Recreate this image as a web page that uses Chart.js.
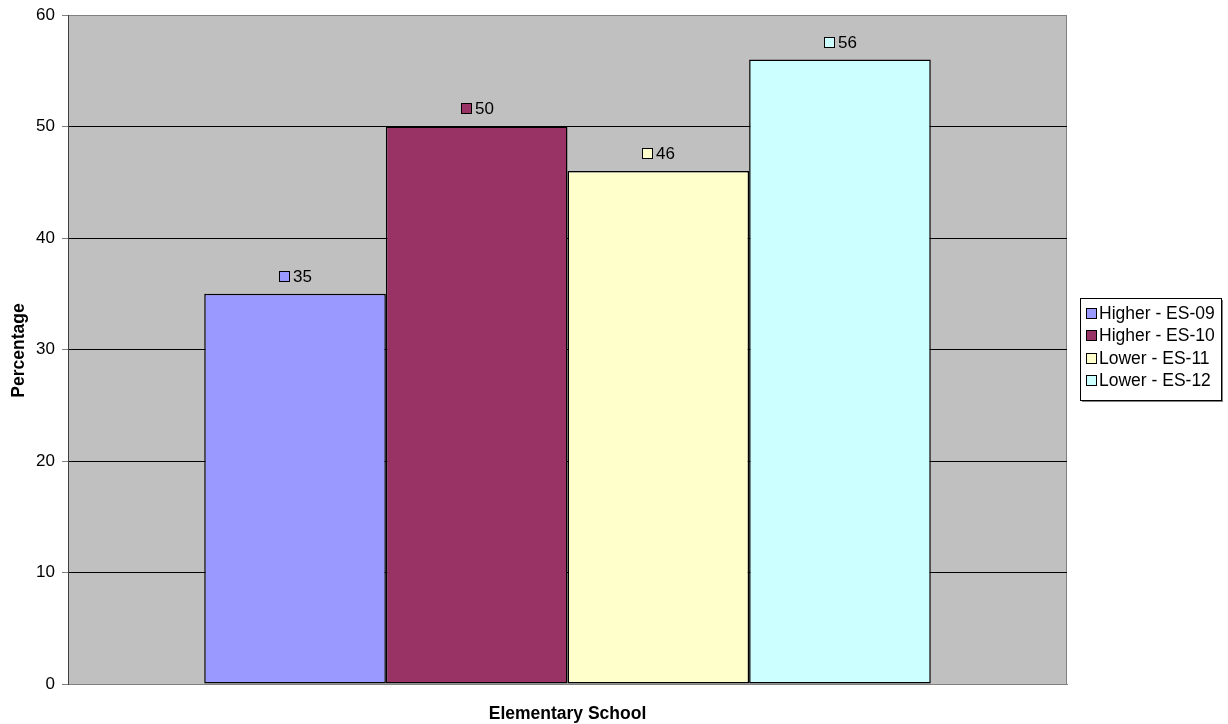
<!DOCTYPE html>
<html>
<head>
<meta charset="utf-8">
<script src="https://cdn.jsdelivr.net/npm/chart.js@4.4.1/dist/chart.umd.min.js"></script>
<style>
  html, body { margin: 0; padding: 0; background: #ffffff; }
  #wrap { width: 1228px; height: 724px; }
</style>
</head>
<body>
<div id="wrap"><canvas id="chart" width="1228" height="724"></canvas></div>
<script>
// Chart data
const categories = ['Elementary School'];
const seriesNames = ['Higher - ES-09', 'Higher - ES-10', 'Lower - ES-11', 'Lower - ES-12'];
const seriesValues = [35, 50, 46, 56];
const seriesColors = ['#9999FF', '#993366', '#FFFFCC', '#CCFFFF'];
const yTicks = [0, 10, 20, 30, 40, 50, 60];
const yAxisTitle = 'Percentage';
const xAxisTitle = 'Elementary School';

const FONT = '"Liberation Sans", Arial, sans-serif';

const datasets = seriesNames.map((name, i) => ({
  label: name,
  data: [seriesValues[i]],
  backgroundColor: seriesColors[i],
  borderColor: '#000000',
  borderWidth: 1.5,
  borderSkipped: false,
  barPercentage: 1.0,
  categoryPercentage: 4 / 5.5
}));

// Grey plot area with a thin frame
const plotBackground = {
  id: 'plotBackground',
  beforeDraw(chart) {
    const { ctx, chartArea: a } = chart;
    ctx.save();
    ctx.fillStyle = '#C0C0C0';
    ctx.fillRect(a.left, a.top, a.right - a.left, a.bottom - a.top);
    ctx.strokeStyle = '#808080';
    ctx.lineWidth = 1;
    ctx.strokeRect(a.left + 0.5, a.top + 0.5, a.right - a.left - 1, a.bottom - a.top);
    ctx.restore();
  }
};

// Value labels above each bar, with a small colour key
const valueLabels = {
  id: 'valueLabels',
  afterDatasetsDraw(chart) {
    const { ctx } = chart;
    ctx.save();
    ctx.font = '17px ' + FONT;
    ctx.textBaseline = 'middle';
    ctx.textAlign = 'left';
    chart.data.datasets.forEach((ds, i) => {
      const meta = chart.getDatasetMeta(i);
      meta.data.forEach((bar, j) => {
        const text = String(ds.data[j]);
        const tw = ctx.measureText(text).width;
        const box = 10, gap = 3;
        const total = box + gap + tw;
        const x0 = Math.round(bar.x - total / 2);
        const cy = Math.round(bar.y - 18);
        ctx.fillStyle = ds.backgroundColor;
        ctx.fillRect(x0 + 0.5, cy - box / 2 + 0.5, box, box);
        ctx.strokeStyle = '#000000';
        ctx.lineWidth = 1;
        ctx.strokeRect(x0 + 0.5, cy - box / 2 + 0.5, box, box);
        ctx.fillStyle = '#000000';
        ctx.fillText(text, x0 + box + gap + 1, cy + 1);
      });
    });
    ctx.restore();
  }
};

// Axis titles
const axisTitles = {
  id: 'axisTitles',
  afterDraw(chart) {
    const { ctx, chartArea: a } = chart;
    ctx.save();
    ctx.fillStyle = '#000000';
    ctx.font = 'bold 17.5px ' + FONT;
    ctx.textAlign = 'center';
    ctx.textBaseline = 'middle';
    ctx.fillText(xAxisTitle, (a.left + a.right) / 2, 714);
    ctx.translate(19, (a.top + a.bottom) / 2 + 1);
    ctx.rotate(-Math.PI / 2);
    ctx.fillText(yAxisTitle, 0, 0);
    ctx.restore();
  }
};

// Boxed legend to the right of the plot
const boxLegend = {
  id: 'boxLegend',
  afterDraw(chart) {
    const { ctx } = chart;
    const left = 1080, top = 298, width = 141, height = 102;
    ctx.save();
    ctx.fillStyle = '#808080';
    ctx.fillRect(left + 2, top + 2, width, height);
    ctx.fillStyle = '#FFFFFF';
    ctx.fillRect(left, top, width, height);
    ctx.strokeStyle = '#000000';
    ctx.lineWidth = 1;
    ctx.strokeRect(left + 0.5, top + 0.5, width, height);
    ctx.font = '17.5px ' + FONT;
    ctx.textBaseline = 'middle';
    ctx.textAlign = 'left';
    chart.data.datasets.forEach((ds, i) => {
      const cy = Math.round(top + 15 + i * 22.3);
      const bx = left + 6;
      ctx.fillStyle = ds.backgroundColor;
      ctx.fillRect(bx + 0.5, cy - 4.5, 10, 10);
      ctx.strokeStyle = '#000000';
      ctx.strokeRect(bx + 0.5, cy - 4.5, 10, 10);
      ctx.fillStyle = '#000000';
      ctx.fillText(ds.label, bx + 13, cy + 1);
    });
    ctx.restore();
  }
};

new Chart(document.getElementById('chart'), {
  type: 'bar',
  data: { labels: categories, datasets },
  options: {
    responsive: false,
    animation: false,
    devicePixelRatio: 1,
    layout: { padding: { top: 15, right: 161, left: 0, bottom: 0 } },
    plugins: {
      legend: { display: false },
      tooltip: { enabled: false },
      title: { display: false }
    },
    scales: {
      x: {
        ticks: { display: false },
        grid: { display: false },
        border: { display: true, color: '#808080', width: 1 },
        afterFit(scale) { scale.height = 40; }
      },
      y: {
        min: 0,
        max: 60,
        afterBuildTicks(scale) { scale.ticks = yTicks.map(v => ({ value: v })); },
        ticks: {
          color: '#000000',
          font: { family: FONT, size: 17 },
          padding: 7
        },
        grid: {
          color: ctx => (ctx.tick && (ctx.tick.value === 0 || ctx.tick.value === 60)) ? 'rgba(0,0,0,0)' : '#000000',
          tickColor: '#808080',
          tickLength: 6,
          lineWidth: 1
        },
        border: { display: true, color: '#404040', width: 1 },
        afterFit(scale) {
          scale.width = 68;
          scale.paddingTop = 0;
          scale.paddingBottom = 0;
        }
      }
    }
  },
  plugins: [plotBackground, valueLabels, axisTitles, boxLegend]
});
</script>
</body>
</html>
